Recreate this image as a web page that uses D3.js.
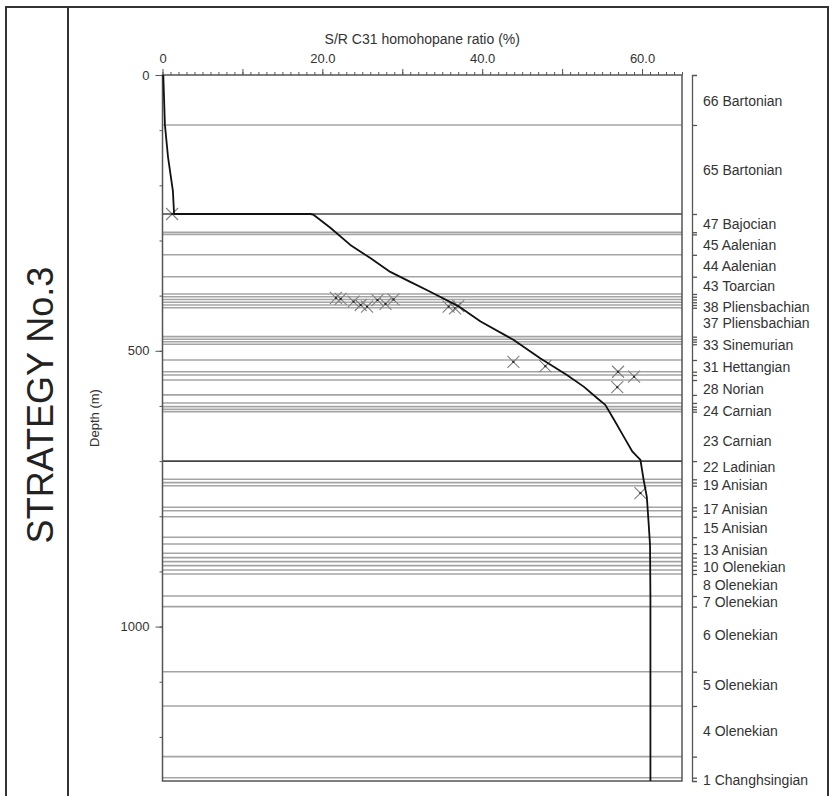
<!DOCTYPE html>
<html>
<head>
<meta charset="utf-8">
<script src="https://cdn.jsdelivr.net/npm/d3@7"></script>
<style>
  body { margin: 0; background: #fff; }
  text { font-family: Arial, "Liberation Sans", sans-serif; fill: #333; }
</style>
</head>
<body>
<script>
'use strict';

// measured samples (S/R ratio %, depth m)
const sampleRatio = [1.2, 21.7, 22.3, 23.9, 24.8, 25.6, 26.9, 27.9, 28.9, 35.8, 36.6, 37.0, 43.9, 47.9, 57.0, 59.0, 56.9, 59.8];
const sampleDepth = [252, 404, 406, 411, 417, 420, 408, 415, 407, 420, 423, 419, 520, 528, 538, 547, 566, 758];

// modelled curve
const modelRatio = [0.1, 0.3, 0.7, 1.3, 1.45, 18.5, 18.85, 21.0, 23.5, 26.0, 28.5, 31.0, 33.5, 37.0, 39.8, 43.9, 47.3, 50.6, 52.7, 54.4, 55.4, 56.5, 57.8, 58.8, 59.8, 60.2, 60.6, 60.8, 61.0, 61.05, 61.05];
const modelDepth = [0, 90, 150, 210, 252, 252, 253, 277, 308, 332, 357, 375, 393, 419, 447, 480, 514, 544, 565, 586, 598, 625, 658, 683, 698, 734, 765, 807, 852, 952, 1280];

// formation boundaries (m)
const boundaryDepths = [90.6, 252, 285, 289, 326, 365.7, 397, 402, 407, 412, 417, 422, 474.4, 479.2, 483.5, 488.2,
  516.7, 537.9, 543.9, 553, 580, 594.6, 601.3, 606, 610.4, 700, 733, 739, 744.6, 783.7, 789.9, 800.8, 838, 850.3,
  867, 875, 882.3, 889.6, 897.4, 904.6, 944.5, 963.9, 1081.8, 1144, 1235.8, 1274];
const unconformities = [252, 700];

// unit labels and the depth they sit at
const unitLabels = ["66 Bartonian", "65 Bartonian", "47 Bajocian", "45 Aalenian", "44 Aalenian", "43 Toarcian",
  "38 Pliensbachian", "37 Pliensbachian", "33 Sinemurian", "31 Hettangian", "28 Norian", "24 Carnian", "23 Carnian",
  "22 Ladinian", "19 Anisian", "17 Anisian", "15 Anisian", "13 Anisian", "10 Olenekian", "8 Olenekian",
  "7 Olenekian", "6 Olenekian", "5 Olenekian", "4 Olenekian", "1 Changhsingian"];
const unitLabelDepths = [48, 172, 271, 308, 347, 382, 420, 450, 489, 529, 570, 610, 663, 710, 743, 787, 822, 861,
  892, 925, 955, 1015, 1106, 1190, 1279];

const ratioLabelTicks = [0, 20, 40, 60];
const depthLabelTicks = [0, 500, 1000];

const width = 834, height = 796;

const svg = d3.select('body').append('svg')
  .attr('width', width)
  .attr('height', height);

svg.append('rect').attr('width', width).attr('height', height).attr('fill', '#fff');

// outer frame and title column
svg.append('path')
  .attr('d', 'M6,800V7H828V800M68,7V800')
  .attr('fill', 'none')
  .attr('stroke', '#333')
  .attr('stroke-width', 2);

svg.append('text')
  .attr('transform', 'translate(53, 405)rotate(-90)')
  .attr('text-anchor', 'middle')
  .style('font-size', '36px')
  .style('fill', '#222')
  .text('STRATEGY No.3');

const x = d3.scaleLinear().domain([0, 65]).range([162.5, 682]);
const y = d3.scaleLinear().domain([0, 1280]).range([75, 781]);

// boundary lines
svg.append('g').selectAll('line')
  .data(boundaryDepths)
  .enter()
  .append('line')
  .attr('x1', x(0)).attr('x2', x(65))
  .attr('y1', d => y(d)).attr('y2', d => y(d))
  .attr('stroke', d => unconformities.includes(d) ? '#444' : '#a4a4a4')
  .attr('stroke-width', 1.6);

// top axis: minor then major
svg.append('g')
  .attr('transform', 'translate(0,' + y(0) + ')')
  .call(d3.axisTop(x).tickValues(d3.range(0, 66, 1)).tickSize(3).tickFormat(''))
  .call(g => g.select('.domain').remove());

svg.append('g')
  .attr('transform', 'translate(0,' + y(0) + ')')
  .call(d3.axisTop(x).tickValues(d3.range(0, 66, 10)).tickSize(6).tickPadding(6)
    .tickFormat(d => ratioLabelTicks.includes(d) ? (d === 0 ? '0' : d.toFixed(1)) : ''))
  .call(g => g.select('.domain').remove())
  .call(g => g.selectAll('text').style('font-size', '13px').style('font-family', 'Arial, "Liberation Sans", sans-serif').attr('fill', '#333'));

// left axis
svg.append('g')
  .attr('transform', 'translate(' + x(0) + ',0)')
  .call(d3.axisLeft(y).tickValues(d3.range(0, 1281, 100)).tickSize(3).tickFormat(''))
  .call(g => g.select('.domain').remove());

svg.append('g')
  .attr('transform', 'translate(' + x(0) + ',0)')
  .call(d3.axisLeft(y).tickValues(depthLabelTicks).tickSize(7).tickPadding(6).tickFormat(d3.format('d')))
  .call(g => g.select('.domain').remove())
  .call(g => g.selectAll('text').style('font-size', '13px').style('font-family', 'Arial, "Liberation Sans", sans-serif').attr('fill', '#333'));

svg.selectAll('.tick line').attr('stroke', '#555');

// plot frame
svg.append('rect')
  .attr('x', x(0)).attr('y', y(0))
  .attr('width', x(65) - x(0)).attr('height', y(1280) - y(0))
  .attr('fill', 'none')
  .attr('stroke', '#555')
  .attr('stroke-width', 1.5);

// right stratigraphic axis
const rightX = 692;
svg.append('g')
  .attr('transform', 'translate(' + rightX + ',0)')
  .call(d3.axisRight(y).tickValues(boundaryDepths).tickSize(5).tickSizeOuter(5).tickFormat(''))
  .call(g => g.selectAll('line, path').attr('stroke', '#555').attr('stroke-width', 1.3));

svg.append('g').selectAll('text')
  .data(unitLabels)
  .enter()
  .append('text')
  .attr('x', rightX + 11)
  .attr('y', (d, i) => y(unitLabelDepths[i]))
  .attr('dy', '0.35em')
  .style('font-size', '14px')
  .text(d => d);

// samples as crosses
const samples = sampleRatio.map((r, i) => [r, sampleDepth[i]]);
const marks = svg.append('g').selectAll('g')
  .data(samples)
  .enter()
  .append('g')
  .attr('transform', d => 'translate(' + x(d[0]) + ',' + y(d[1]) + ')');
marks.append('path')
  .attr('d', 'M-6,-6L6,6M-6,6L6,-6')
  .attr('stroke', '#808080')
  .attr('stroke-width', 1.1)
  .attr('fill', 'none');
marks.append('rect')
  .attr('x', -1).attr('y', -1).attr('width', 2).attr('height', 2)
  .attr('fill', '#222');

// model curve
const model = modelRatio.map((r, i) => [r, modelDepth[i]]);
svg.append('path')
  .datum(model)
  .attr('fill', 'none')
  .attr('stroke', '#111')
  .attr('stroke-width', 1.8)
  .attr('stroke-linejoin', 'round')
  .attr('d', d3.line().x(d => x(d[0])).y(d => y(d[1])));

// axis titles
svg.append('text')
  .attr('x', (x(0) + x(65)) / 2)
  .attr('y', 44)
  .attr('text-anchor', 'middle')
  .style('font-size', '14px')
  .text('S/R C31 homohopane ratio (%)');

svg.append('text')
  .attr('transform', 'translate(99, 418)rotate(-90)')
  .attr('text-anchor', 'middle')
  .style('font-size', '13px')
  .text('Depth (m)');
</script>
</body>
</html>
